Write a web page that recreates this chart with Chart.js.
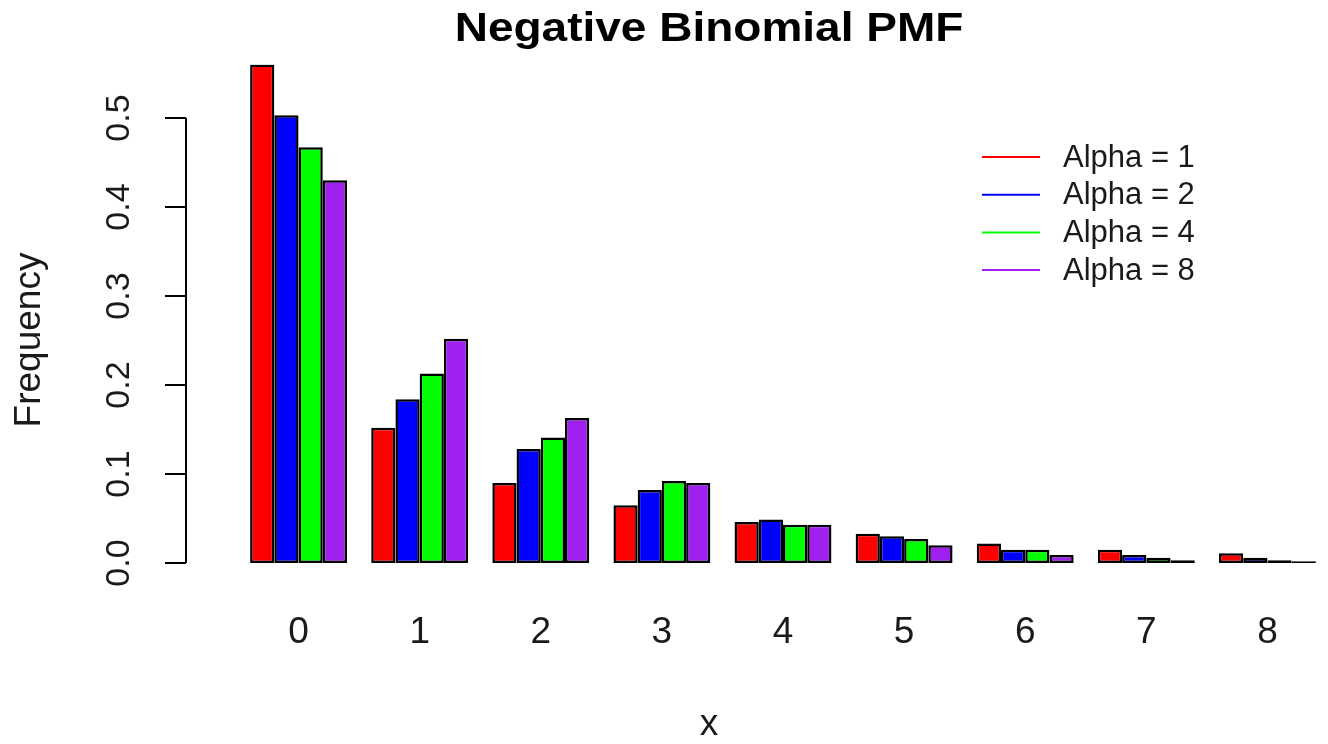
<!DOCTYPE html>
<html>
<head>
<meta charset="utf-8">
<title>Negative Binomial PMF</title>
<script src="https://cdn.jsdelivr.net/npm/chart.js@4"></script>
<style>
  html, body { margin: 0; padding: 0; background: #fff; }
  #box { width: 1328px; height: 744px; }
</style>
</head>
<body>
<div id="box"><canvas id="pmf" width="1328" height="744"></canvas></div>
<script>
// observed frequencies for x = 0..8, one array per alpha
const categories = ['0', '1', '2', '3', '4', '5', '6', '7', '8'];
const alpha1 = [0.560, 0.152, 0.090, 0.065, 0.046, 0.033, 0.022, 0.015, 0.011];
const alpha2 = [0.503, 0.184, 0.128, 0.082, 0.049, 0.030, 0.015, 0.009, 0.006];
const alpha4 = [0.467, 0.213, 0.141, 0.092, 0.043, 0.027, 0.015, 0.006, 0.003];
const alpha8 = [0.430, 0.252, 0.163, 0.090, 0.043, 0.020, 0.009, 0.003, 0.002];
const seriesNames = ['Alpha = 1', 'Alpha = 2', 'Alpha = 4', 'Alpha = 8'];
const yTicks = [0, 0.1, 0.2, 0.3, 0.4, 0.5];
const yTickLabels = ['0.0', '0.1', '0.2', '0.3', '0.4', '0.5'];

const colors = ['#ff0000', '#0000ff', '#00ff00', '#a020f0'];
const font = '"Liberation Sans", Arial, sans-serif';
const ink = '#1a1a1a';

// R style left axis: detached line, outward ticks, labels turned sideways
const leftAxis = {
    id: 'leftAxis',
    afterDraw(chart) {
        const ctx = chart.ctx;
        const sc = chart.scales.y;
        const axisX = 186;
        const top = sc.getPixelForValue(yTicks[yTicks.length - 1]);
        const bottom = sc.getPixelForValue(yTicks[0]);
        ctx.save();
        ctx.strokeStyle = '#000';
        ctx.lineWidth = 2;
        ctx.beginPath();
        ctx.moveTo(axisX, bottom);
        ctx.lineTo(axisX, top);
        for (let i = 0; i < yTicks.length; i++) {
            const py = sc.getPixelForValue(yTicks[i]);
            ctx.moveTo(axisX, py);
            ctx.lineTo(axisX - 21, py);
        }
        ctx.stroke();

        ctx.fillStyle = ink;
        ctx.textAlign = 'center';
        ctx.textBaseline = 'middle';
        ctx.font = '34px ' + font;
        for (let i = 0; i < yTicks.length; i++) {
            const py = sc.getPixelForValue(yTicks[i]);
            ctx.save();
            ctx.translate(120, py);
            ctx.rotate(-Math.PI / 2);
            ctx.fillText(yTickLabels[i], 0, 0);
            ctx.restore();
        }
        ctx.font = '37px ' + font;
        ctx.save();
        ctx.translate(30, 340);
        ctx.rotate(-Math.PI / 2);
        ctx.fillText('Frequency', 0, 0);
        ctx.restore();
        ctx.restore();
    }
};

// main title and x label, centred on the whole figure rather than the plot
const figureText = {
    id: 'figureText',
    afterDraw(chart) {
        const ctx = chart.ctx;
        ctx.save();
        ctx.textAlign = 'center';
        ctx.textBaseline = 'middle';
        ctx.fillStyle = '#000';
        ctx.font = 'bold 40px ' + font;
        ctx.save();
        ctx.translate(709, 30);
        ctx.scale(1.15, 1);
        ctx.fillText('Negative Binomial PMF', 0, 0);
        ctx.restore();
        ctx.fillStyle = ink;
        ctx.font = '37px ' + font;
        ctx.fillText('x', 709, 725);
        ctx.restore();
    }
};

// line-key legend in the upper right, no frame
const lineLegend = {
    id: 'lineLegend',
    afterDraw(chart) {
        const ctx = chart.ctx;
        ctx.save();
        ctx.font = '31px ' + font;
        ctx.textAlign = 'left';
        ctx.textBaseline = 'middle';
        chart.data.datasets.forEach(function (ds, i) {
            const y = 157 + i * 37.7;
            ctx.strokeStyle = ds.backgroundColor;
            ctx.lineWidth = 2;
            ctx.beginPath();
            ctx.moveTo(982, y);
            ctx.lineTo(1040, y);
            ctx.stroke();
            ctx.fillStyle = ink;
            ctx.fillText(ds.label, 1063, y + 1);
        });
        ctx.restore();
    }
};

const seriesValues = [alpha1, alpha2, alpha4, alpha8];
const datasets = seriesValues.map(function (vals, i) {
    return {
        label: seriesNames[i],
        data: vals,
        backgroundColor: colors[i],
        borderColor: '#000',
        borderWidth: 2.5,
        borderSkipped: false,
        barPercentage: 1,
        categoryPercentage: 0.8
    };
});

new Chart(document.getElementById('pmf'), {
    type: 'bar',
    data: { labels: categories, datasets: datasets },
    options: {
        responsive: false,
        animation: false,
        layout: { padding: { left: 238, right: 0, top: 64.6, bottom: 0 } },
        plugins: {
            legend: { display: false },
            tooltip: { enabled: false }
        },
        scales: {
            x: {
                grid: { display: false, drawTicks: false },
                border: { display: false },
                ticks: {
                    color: ink,
                    padding: 48,
                    font: { family: font, size: 37 }
                },
                afterFit(scale) { scale.height = 181; }
            },
            y: {
                display: false,
                min: 0,
                max: 0.56
            }
        }
    },
    plugins: [leftAxis, figureText, lineLegend]
});
</script>
</body>
</html>
